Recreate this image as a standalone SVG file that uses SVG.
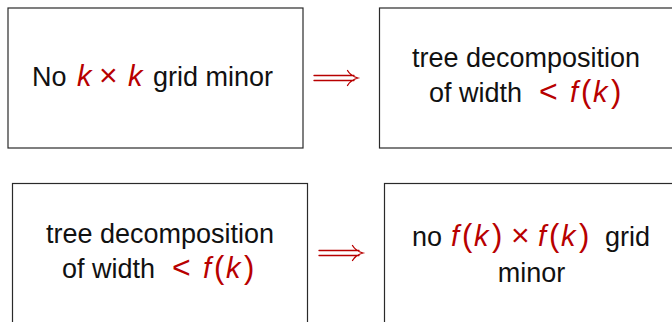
<svg xmlns="http://www.w3.org/2000/svg" width="672" height="322" viewBox="0 0 672 322">
<style>
.box{fill:#fff;stroke:#2a2a2a;stroke-width:1.2}
.t{font-family:"Liberation Sans",Arial,sans-serif;font-size:27px;fill:#111}
.c{text-anchor:middle}
.r{fill:#b80000}
.i{font-style:italic;font-size:29px}
.p{font-size:31px}
.o{font-size:32px}
.arr{fill:none;stroke:#b80000;stroke-width:1.3;stroke-linecap:round}
</style>
<rect width="672" height="322" fill="#fff"/>
<g id="node1">
<rect class="box" x="8" y="8" width="295" height="140"/>
<text class="t" y="86"><tspan x="32">No</tspan><tspan class="r i" x="77">k</tspan><tspan class="r o" x="99">×</tspan><tspan class="r i" x="128">k</tspan><tspan x="153">grid minor</tspan></text>
</g>
<g id="node2">
<rect class="box" x="379.5" y="8" width="296" height="140"/>
<text class="t c" x="526" y="67">tree decomposition</text>
<text class="t" y="102"><tspan x="429">of width</tspan><tspan class="r o" x="539">&lt;</tspan><tspan class="r i" x="570">f</tspan><tspan class="r p" x="581">(</tspan><tspan class="r i" x="593">k</tspan><tspan class="r p" x="611">)</tspan></text>
</g>
<g id="node3">
<rect class="box" x="12.5" y="183.5" width="295" height="150"/>
<text class="t c" x="160" y="243">tree decomposition</text>
<text class="t" y="278"><tspan x="62">of width</tspan><tspan class="r o" x="172">&lt;</tspan><tspan class="r i" x="203">f</tspan><tspan class="r p" x="214">(</tspan><tspan class="r i" x="226">k</tspan><tspan class="r p" x="244">)</tspan></text>
</g>
<g id="node4">
<rect class="box" x="384.5" y="183.5" width="296" height="150"/>
<text class="t" y="246"><tspan x="412">no</tspan><tspan class="r i" x="451">f</tspan><tspan class="r p" x="462">(</tspan><tspan class="r i" x="474">k</tspan><tspan class="r p" x="492">)</tspan><tspan class="r o" x="511">×</tspan><tspan class="r i" x="538">f</tspan><tspan class="r p" x="549">(</tspan><tspan class="r i" x="561">k</tspan><tspan class="r p" x="579">)</tspan><tspan x="605">grid</tspan></text>
<text class="t c" x="531.5" y="282">minor</text>
</g>
<g id="connectors">
<path class="arr" d="M314,75.5 H354 M314,80.5 H354 M347.5,70.5 C349.5,74 353,76.5 358,78 C353,79.5 349.5,82 347.5,85.5"/>
<path class="arr" d="M319,250.5 H359 M319,255.5 H359 M352.5,245.5 C354.5,249 358,251.5 363,253 C358,254.5 354.5,257 352.5,260.5"/>
</g>
</svg>
